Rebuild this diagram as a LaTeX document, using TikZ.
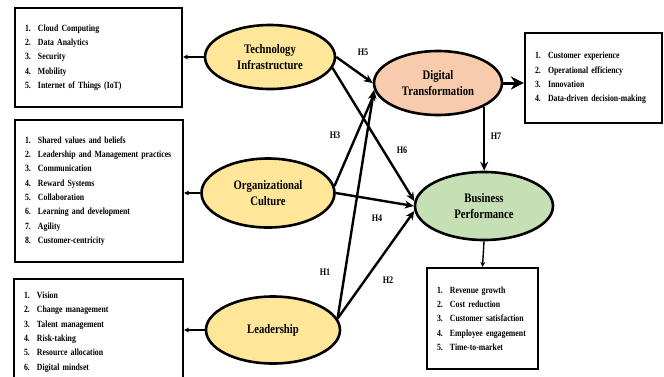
\documentclass[tikz,border=0pt]{standalone}
\usepackage{fontspec}
\setmainfont{Liberation Serif}[FakeStretch=0.82]
\usetikzlibrary{shapes.geometric}
\usetikzlibrary{arrows.meta}
\newcommand{\itm}[1]{\makebox[13pt][l]{#1.}}

\begin{document}
\begin{tikzpicture}[x=1pt, y=-1pt,
		construct/.style={
			ellipse, draw=black, fill=#1, line width=2.6pt,
			inner sep=0pt, align=center,
			font=\fontsize{13}{15.5}\selectfont\bfseries
		},
		listbox/.style={
			draw=black, line width=2.2pt, inner xsep=10pt, inner ysep=0pt,
			align=left, font=\fontsize{9.5}{14.3}\selectfont\bfseries
		},
		hyp/.style={font=\fontsize{10}{12}\selectfont\bfseries},
		hyparrow/.style={line width=2.4pt, -{Stealth[length=9pt,width=8pt]}},
		outarrow/.style={line width=1.4pt, -{Stealth[length=5pt,width=5pt]}}
		]
		
		\definecolor{constructcol}{HTML}{FFE699}
		\definecolor{digitalcol}{HTML}{F8CBAD}
		\definecolor{perfcol}{HTML}{C5E0B4}
		
		\useasboundingbox (0,0) rectangle (664,376);
		
		\node[construct=constructcol, minimum width=130pt, minimum height=64pt] (tech)   at (270, 57)  {Technology\\Infrastructure};
		\node[construct=constructcol, minimum width=133pt, minimum height=69pt] (orgcult) at (268, 193) {Organizational\\Culture};
		\node[construct=constructcol, minimum width=134pt, minimum height=67pt] (lead)   at (273, 330) {Leadership};
		\node[construct=digitalcol,   minimum width=128pt, minimum height=64pt] (digital) at (438, 83) {Digital\\Transformation};
		\node[construct=perfcol,      minimum width=138pt, minimum height=68pt] (perf)   at (484, 206) {Business\\Performance};
		
		\node[listbox, text width=147pt, minimum height=99pt]  (techbox) at (98.5, 57.5) {\itm{1}Cloud Computing\\\itm{2}Data Analytics\\\itm{3}Security\\\itm{4}Mobility\\\itm{5}Internet of Things (IoT)};
		\node[listbox, text width=148pt, minimum height=142pt] (orgbox)  at (99, 191)    {\itm{1}Shared values and beliefs\\\itm{2}Leadership and Management practices\\\itm{3}Communication\\\itm{4}Reward Systems\\\itm{5}Collaboration\\\itm{6}Learning and development\\\itm{7}Agility\\\itm{8}Customer-centricity};
		\node[listbox, text width=149pt, minimum height=106pt] (leadbox) at (98.5, 332)  {\itm{1}Vision\\\itm{2}Change management\\\itm{3}Talent management\\\itm{4}Risk-taking\\\itm{5}Resource allocation\\\itm{6}Digital mindset};
		\node[listbox, text width=117pt, minimum height=90pt]  (digbox)  at (593.5, 78)  {\itm{1}Customer experience\\\itm{2}Operational efficiency\\\itm{3}Innovation\\\itm{4}Data-driven decision-making};
		\node[listbox, text width=91pt,  minimum height=101pt] (perfbox) at (482.5, 318.5) {\itm{1}Revenue growth\\\itm{2}Cost reduction\\\itm{3}Customer satisfaction\\\itm{4}Employee engagement\\\itm{5}Time-to-market};
		
		\draw[outarrow] (tech.west) -- (tech.west -| techbox.east);
		\draw[outarrow] (orgcult.west) -- (orgcult.west -| orgbox.east);
		\draw[outarrow] (lead.west) -- (lead.west -| leadbox.east);
		\draw[outarrow] (perf.south) -- (perfbox.north);
		\draw[line width=3pt, -{Stealth[length=13pt,width=13pt]}] (digital.east) -- (digital.east -| digbox.west);
		
		\draw[hyparrow] (tech.east) -- (digital.west);
		\draw[hyparrow] (tech.-10) -- (perf.176);
		\draw[hyparrow] (orgcult.6) -- (digital.188);
		\draw[hyparrow] (orgcult.east) -- (perf.180);
		\draw[hyparrow] (lead.10) -- (digital.186);
		\draw[hyparrow] (lead.10) -- (perf.184);
		\draw[hyparrow] (digital.south east) -- (digital.south east |- perf.north);
		
		\node[hyp] (h1) at (325, 272) {H1};
		\node[hyp] (h2) at (388, 280) {H2};
		\node[hyp] (h3) at (335, 135) {H3};
		\node[hyp] (h4) at (377, 218) {H4};
		\node[hyp] (h5) at (363, 52)  {H5};
		\node[hyp] (h6) at (402, 150) {H6};
		\node[hyp] (h7) at (496, 136) {H7};
		
	\end{tikzpicture}
\end{document}
